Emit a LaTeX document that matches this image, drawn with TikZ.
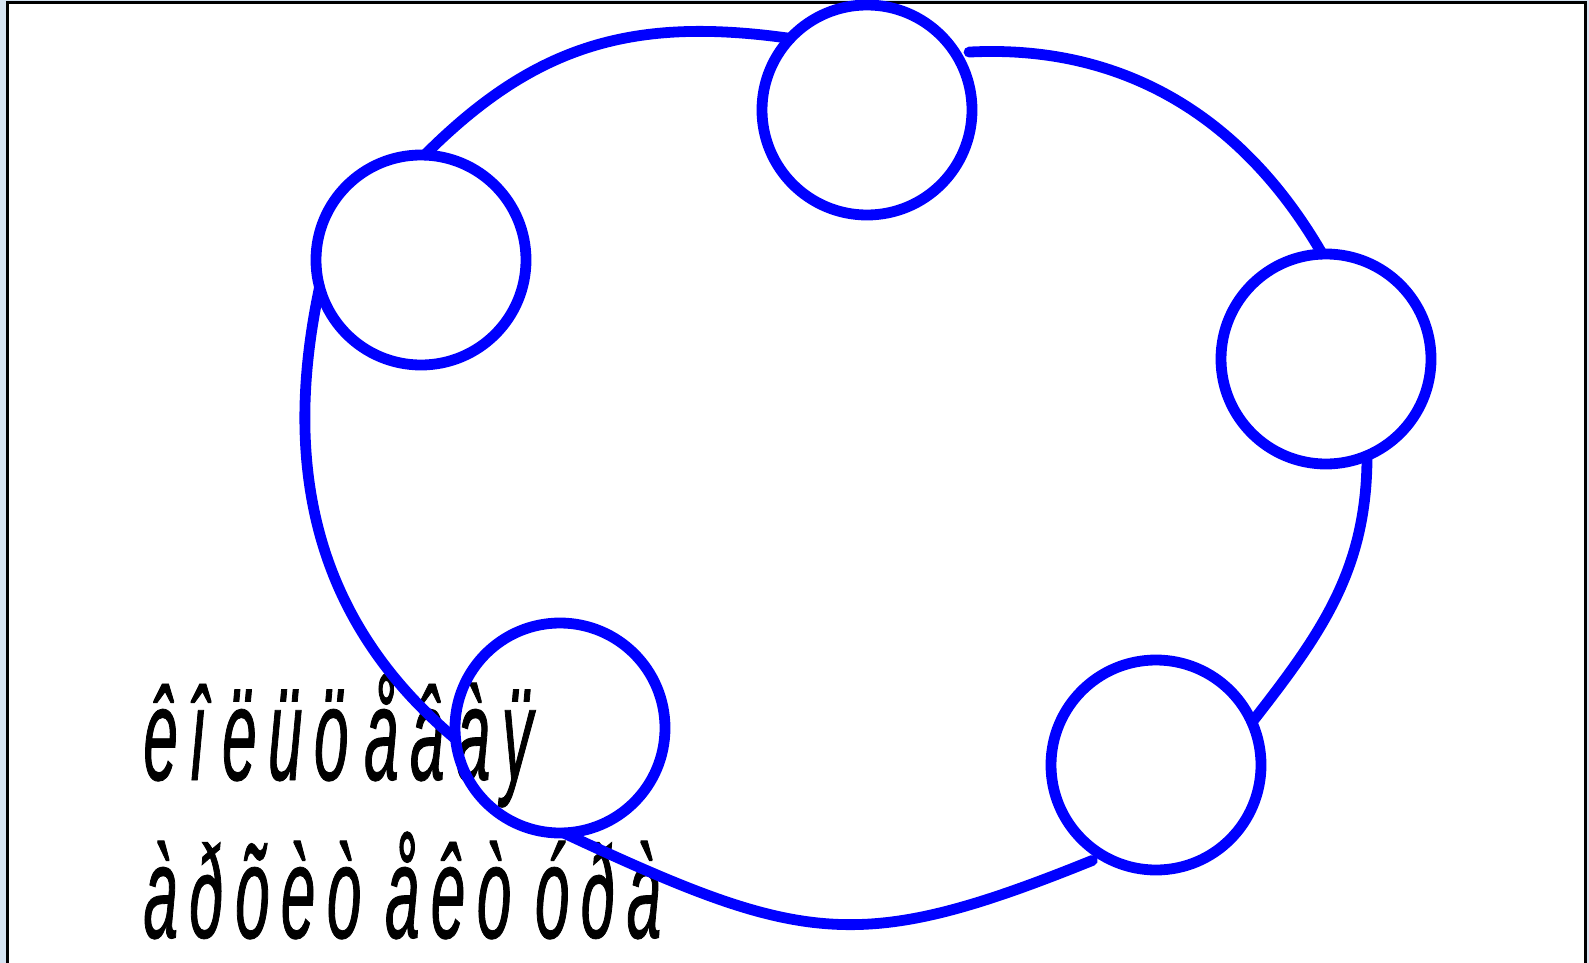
\documentclass[tikz,border=0pt]{standalone}
\usepackage{fontspec}
\newfontfamily\lblfont[FakeStretch=0.47,LetterSpace=8.6,WordSpace=0.55,FakeBold=0.6]{Liberation Sans}
\definecolor{bgblue}{RGB}{214,228,242}
\definecolor{ringblue}{RGB}{0,0,255}
\begin{document}
\begin{tikzpicture}[x=0.5pt,y=-0.5pt,
  ring/.style={circle,draw=ringblue,line width=5.4pt,minimum size=105pt,inner sep=0pt,outer sep=0pt},
  link/.style={draw=ringblue,line width=5.4pt,line cap=round},
  lbl/.style={anchor=base west,inner sep=0pt,font=\lblfont\itshape\fontsize{66pt}{80pt}\selectfont}]
\useasboundingbox (0,0) rectangle (1589,963);
\clip (0,0) rectangle (1589,963);
\fill[bgblue] (0,0) rectangle (1589,963);
\filldraw[fill=white,draw=black,line width=1.5pt] (7,3) rectangle (1585,990);
% text
\node[lbl] (t1) at (143,780) {êî ëüö åâàÿ};
\node[lbl] (t2) at (143,938) {àðõèò \hskip4pt åêò \hskip4pt óðà};
% circles
\node[ring] (c1) at (867,110) {};
\node[ring] (c2) at (421,260) {};
\node[ring] (c3) at (1326,359) {};
\node[ring] (c4) at (1156,765) {};
\node[ring] (c5) at (560,728) {};
% connectors
\draw[link] (c2.88) to[out=45,in=172,looseness=1.05] (c1.137);
\draw[link,shorten <=7pt] (c1.33) to[out=3,in=120] (c3.92);
\draw[link] (c3.293) to[out=-90,in=52] (c4.24);
\draw[link,shorten <=6pt] (c4.240) to[out=202,in=-25,looseness=1.25] (c5.272);
\draw[link] (c2.195) to[out=258,in=140,looseness=1.0] (c5.186);
\end{tikzpicture}
\end{document}
